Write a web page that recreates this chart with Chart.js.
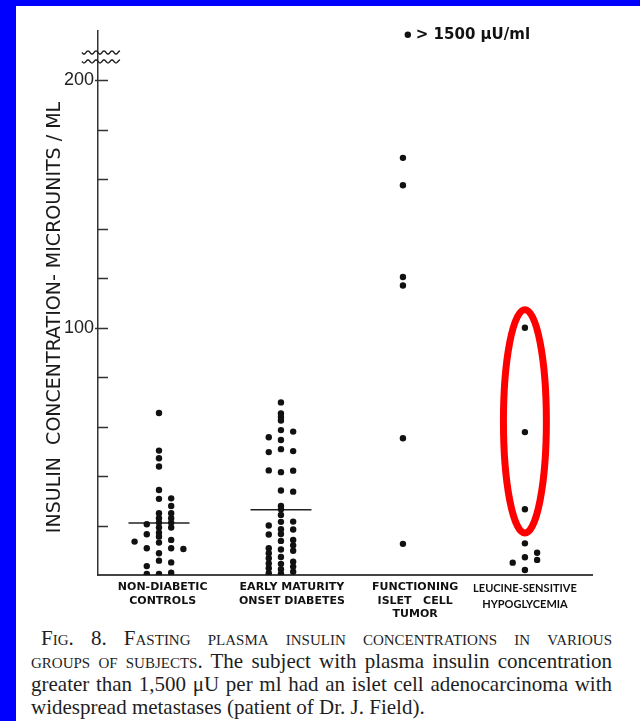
<!DOCTYPE html>
<html>
<head>
<meta charset="utf-8">
<script src="https://cdn.jsdelivr.net/npm/chart.js@4.4.1/dist/chart.umd.min.js"></script>
<style>
  html, body { margin:0; padding:0; }
  body { width:640px; height:721px; overflow:hidden; background:rgb(0,0,255); position:relative; }
  #page { position:absolute; left:16px; top:6px; width:624px; height:715px; background:#fff; }
  #chartBox { position:absolute; left:0; top:0; width:624px; height:619px; }
  #caption { position:absolute; left:15px; top:621px; width:581px; font-family:"Liberation Serif", "Times New Roman", serif; font-size:21px; line-height:23px; color:#1e1e1e; }
  #caption div { white-space:nowrap; }
  #caption .j { text-align:justify; text-align-last:justify; white-space:normal; }
  .sc { font-variant:small-caps; }
</style>
</head>
<body>
<div id="page">
  <div id="chartBox"><canvas id="c" width="624" height="619"></canvas></div>
  <div id="caption">
    <div class="j sc" style="padding-left:10px">Fig. 8. Fasting plasma insulin concentrations in various</div>
    <div class="j"><span class="sc">groups of subjects.</span> The subject with plasma insulin concentration</div>
    <div class="j">greater than 1,500 μU per ml had an islet cell adenocarcinoma with</div>
    <div>widespread metastases (patient of Dr. J. Field).</div>
  </div>
</div>
<script>
// ---------- data ----------
const categoryLabels = [
  ["NON-DIABETIC", "CONTROLS"],
  ["EARLY MATURITY", "ONSET DIABETES"],
  ["FUNCTIONING", "ISLET   CELL", "TUMOR"],
  ["LEUCINE-SENSITIVE", "HYPOGLYCEMIA"]
];
// column index within a group: -2 .. +2 (side-by-side dots of equal value)
const columnOffsets = [-2, -1, 0, 1, 2];

const nonDiabeticControls = [
  [13.5],
  [20.5, 16.5, 10.8, 3.6, 0.4],
  [65.5, 50.3, 47.2, 43.9, 34.4, 30.8, 25.0, 23.0, 21.2, 19.2, 17.1, 15.5, 13.1, 8.8, 5.8, 0.4],
  [31.0, 27.9, 25.0, 23.0, 21.2, 19.2, 14.2, 10.8, 5.1, 0.9],
  [10.5]
];
const earlyMaturityOnset = [
  [],
  [55.7, 49.7, 42.3, 20.0, 16.4, 10.8, 8.8, 6.8, 4.7, 2.7, 0.7],
  [69.8, 65.3, 63.9, 62.5, 58.6, 54.6, 50.9, 41.6, 34.2, 27.9, 26.6, 24.3, 21.5, 18.5, 16.6, 13.8, 10.3, 7.3, 4.5, 2.3, 0.5],
  [58.0, 50.1, 42.2, 33.7, 21.6, 18.4, 14.2, 12.0, 9.8, 5.4, 3.4, 1.3],
  []
];
const isletCellTumor = [
  [],
  [],
  [168.7, 157.6, 120.5, 117.1, 55.3, 12.6],
  [],
  []
];
const leucineSensitive = [
  [],
  [5.0],
  [100.0, 57.8, 26.6, 12.8, 7.2, 2.0],
  [9.0, 6.1],
  []
];
const groupValues = [nonDiabeticControls, earlyMaturityOnset, isletCellTumor, leucineSensitive];
const medians = [21.0, 26.4, null, null];

// off-scale subject (> 1,500 µU/ml) drawn above the axis break
const offScaleGroup = 2;
const offScalePlotValue = 218.5;
const offScaleLabel = "> 1500 µU/ml";

const yTickStep = 20;
const yLabelledTicks = [100, 200];
const yMax = 220;
const axisBreakValues = [211.3, 207.7];

// ---------- styling ----------
const columnGap = 0.1;           // x units between side-by-side columns
const medianHalfWidth = 0.25;    // x units
const labelShift = [0.03, 0.09, 0.1, 0.0];
const offScaleShift = 0.04;
const highlight = { group: 3, top: 107.3, bottom: 17.0, halfWidth: 0.176 };

// ---------- build datasets ----------
const dotPoints = [];
groupValues.forEach((cols, g) => {
  cols.forEach((vals, ci) => {
    vals.forEach(v => dotPoints.push({ x: g + columnOffsets[ci] * columnGap, y: v }));
  });
});

const datasets = [{
  type: 'scatter',
  data: dotPoints,
  pointRadius: 3.2,
  pointHoverRadius: 3.2,
  backgroundColor: '#111',
  borderWidth: 0
}, {
  type: 'scatter',
  data: [{ x: offScaleGroup + offScaleShift, y: offScalePlotValue }],
  pointRadius: 3.2,
  backgroundColor: '#111',
  borderWidth: 0,
  clip: false
}];
medians.forEach((m, g) => {
  if (m === null) return;
  datasets.push({
    type: 'line',
    data: [{ x: g - medianHalfWidth, y: m }, { x: g + medianHalfWidth, y: m }],
    borderColor: '#222',
    borderWidth: 1.6,
    pointRadius: 0,
    showLine: true,
    fill: false
  });
});

// ---------- custom drawing ----------
const extras = {
  id: 'extras',
  afterDatasetsDraw(chart) {
    const ctx = chart.ctx, xs = chart.scales.x, ys = chart.scales.y;
    // red highlight ellipse
    const cx = xs.getPixelForValue(highlight.group);
    const yt = ys.getPixelForValue(highlight.top), yb = ys.getPixelForValue(highlight.bottom);
    const rx = xs.getPixelForValue(highlight.group + highlight.halfWidth) - cx;
    ctx.save();
    ctx.beginPath();
    ctx.ellipse(cx, (yt + yb) / 2, rx, (yb - yt) / 2, 0, 0, Math.PI * 2);
    ctx.strokeStyle = 'rgb(255,0,0)';
    ctx.lineWidth = 7;
    ctx.stroke();
    ctx.restore();
  },
  afterDraw(chart) {
    const ctx = chart.ctx, xs = chart.scales.x, ys = chart.scales.y;
    const left = chart.chartArea.left;
    ctx.save();
    // inward tick marks
    ctx.strokeStyle = '#333';
    ctx.lineWidth = 1.5;
    ctx.beginPath();
    for (let v = yTickStep; v < yMax; v += yTickStep) {
      const py = Math.round(ys.getPixelForValue(v)) + 0.5;
      const stub = yLabelledTicks.includes(v) ? 3 : 0;
      ctx.moveTo(left - stub, py);
      ctx.lineTo(left + 10, py);
    }
    ctx.stroke();
    // axis break marks
    ctx.lineWidth = 1.4;
    ctx.strokeStyle = '#222';
    axisBreakValues.forEach(bv => {
      const py = ys.getPixelForValue(bv);
      ctx.beginPath();
      for (let dx = -16; dx <= 22; dx += 1) {
        const yy = py + 1.6 * Math.sin(dx / 8 * Math.PI * 2);
        if (dx === -16) ctx.moveTo(left + dx, yy); else ctx.lineTo(left + dx, yy);
      }
      ctx.stroke();
    });
    // y axis title
    ctx.fillStyle = '#1a1a1a';
    ctx.font = '19px "DejaVu Sans", sans-serif';
    ctx.textAlign = 'center';
    ctx.textBaseline = 'alphabetic';
    ctx.translate(44, 311.5);
    ctx.rotate(-Math.PI / 2);
    ctx.fillText('INSULIN  CONCENTRATION- MICROUNITS / ML', 0, 0);
    ctx.restore();
    // off-scale label
    ctx.save();
    const px = xs.getPixelForValue(offScaleGroup + offScaleShift);
    const py = ys.getPixelForValue(offScalePlotValue);
    ctx.fillStyle = '#111';
    ctx.font = 'bold 15px "DejaVu Sans", sans-serif';
    ctx.textAlign = 'left';
    ctx.textBaseline = 'middle';
    ctx.fillText(offScaleLabel, px + 8, py);
    ctx.restore();
  }
};

new Chart(document.getElementById('c'), {
  type: 'scatter',
  data: { datasets },
  options: {
    responsive: false,
    animation: false,
    events: [],
    layout: { padding: { top: 25, right: 48, left: 0, bottom: 0 } },
    plugins: { legend: { display: false }, tooltip: { enabled: false } },
    scales: {
      x: {
        type: 'linear',
        min: -0.5,
        max: 3.55,
        afterBuildTicks: s => { s.ticks = categoryLabels.map((_, i) => ({ value: i + labelShift[i] })); },
        afterFit: s => { s.height = 50; },
        grid: { display: false, drawTicks: false },
        border: { display: true, color: '#444', width: 2 },
        ticks: {
          autoSkip: false,
          maxRotation: 0,
          minRotation: 0,
          padding: 6,
          color: '#111',
          callback: (v, i) => categoryLabels[i],
          font: c => c.index === 3
            ? { family: 'Lato', weight: 'bold', size: 11, lineHeight: 1.4 }
            : { family: '"DejaVu Sans"', weight: 'bold', size: 11, lineHeight: 1.2 }
        }
      },
      y: {
        min: 0,
        max: yMax,
        afterFit: s => { s.width = 82; },
        grid: { display: false, drawTicks: false },
        border: { display: true, color: '#333', width: 1.5 },
        ticks: {
          stepSize: yTickStep,
          padding: 4,
          color: '#222',
          font: { family: '"Liberation Sans"', size: 18 },
          callback: v => yLabelledTicks.includes(v) ? String(v) : ''
        }
      }
    }
  },
  plugins: [extras]
});
</script>
</body>
</html>
